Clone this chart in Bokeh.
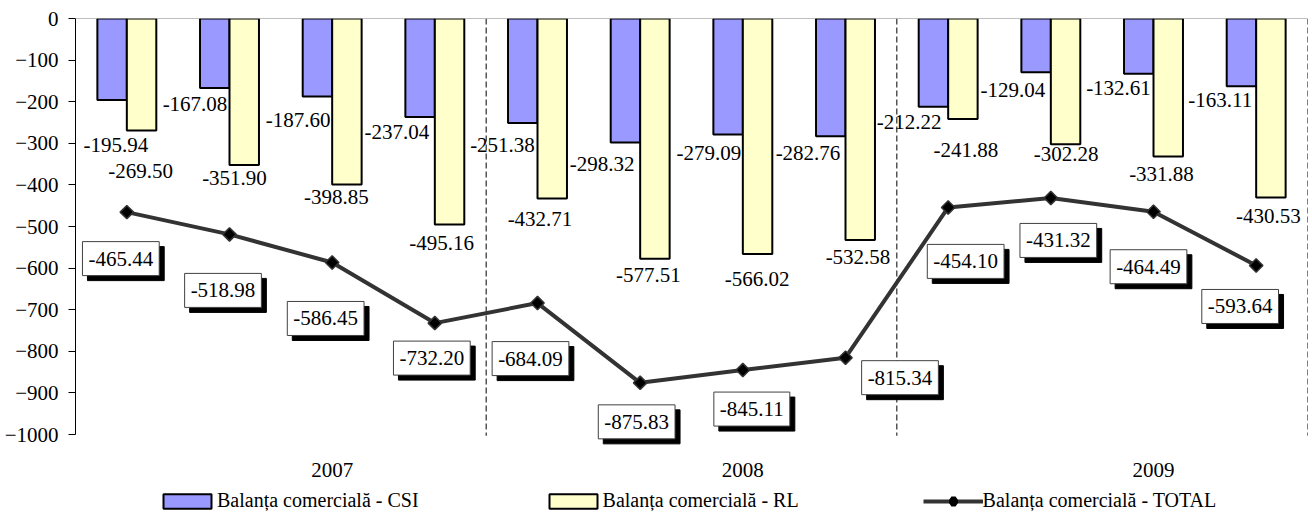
import numpy as np
from bokeh.plotting import figure
from bokeh.models import (Range1d, LinearAxis, FixedTicker, ColumnDataSource,
                          Legend, LegendItem, Span)
from bokeh.core.properties import value
from bokeh.embed import file_html
from bokeh.resources import INLINE

# ---------------- data ----------------
years = ["2007", "2008", "2009"]
quarters = ["I", "II", "III", "IV"]
csi = [-195.94, -167.08, -187.60, -237.04, -251.38, -298.32,
       -279.09, -282.76, -212.22, -129.04, -132.61, -163.11]
rl = [-269.50, -351.90, -398.85, -495.16, -432.71, -577.51,
      -566.02, -532.58, -241.88, -302.28, -331.88, -430.53]
total = [-465.44, -518.98, -586.45, -732.20, -684.09, -875.83,
         -845.11, -815.34, -454.10, -431.32, -464.49, -593.64]
y_ticks = list(range(-1000, 1, 100))
series_names = ["Balanța comercială - CSI", "Balanța comercială - RL",
                "Balanța comercială - TOTAL"]

# ---------------- label nudges (screen px, style only) ----------------
csi_dx = [-11, -34.5, -34, -38, -35, -38, -34, -37.5, -39, -38, -35, -36]
csi_dy = [44.5, 15.5, 23, 14.5, 21.5, 21, 18, 16.5, 15.5, 17.5, 14, 14]
rl_dx = [13.7, 5, 4.3, 6.7, 2.5, 8.3, 14.2, 12.5, 17.8, 15.2, 8, 12.3]
rl_dy = [40.5, 13, 13, 18.5, 20.5, 16, 25, 17, 30.5, 9.5, 17.5, 18.5]
tot_dx = [-6, -6.5, -6.5, -3, -7, -3.5, 9, 54.5, 17.5, 7.5, -5, -16]
tot_dy = [46.5, 56, 56, 35, 55.5, 39, 39, 20, 54, 42.5, 55, 41]

# ---------------- geometry / style ----------------
FONT = "Liberation Serif"
W, H = 1312, 515
LEFT, RIGHT, TOP = 75, 5, 18
FRAME_H = H - TOP
AXIS_PX = 416.0                 # pixels for 1000 units
PX = AXIS_PX / 1000.0
y_start = -FRAME_H / PX
BAR_W = 0.287
YEAR_LABEL_PX = 451             # px below the zero line
BOX_PAD = (6, 10)

n = len(csi)
xc = np.arange(n) + 0.5
x_csi = xc - BAR_W / 2
x_rl = xc + BAR_W / 2

p = figure(width=W, height=H, x_range=Range1d(0, n), y_range=Range1d(y_start, 0),
           output_backend="svg", toolbar_location=None,
           x_axis_location=None, y_axis_location=None,
           min_border_left=LEFT, min_border_right=RIGHT,
           min_border_top=TOP, min_border_bottom=0)
p.grid.visible = False
p.outline_line_color = None
p.background_fill_color = "white"
p.border_fill_color = "white"

yaxis = LinearAxis(ticker=FixedTicker(ticks=y_ticks), bounds=(-1000, 0),
                   major_label_text_font=FONT, major_label_text_font_size="21px",
                   major_label_text_color="black",
                   major_tick_out=7, major_tick_in=0,
                   minor_tick_out=0, minor_tick_in=0,
                   major_label_standoff=10,
                   axis_line_color="black", axis_line_width=1,
                   major_tick_line_color="black")
p.add_layout(yaxis, "left")

# top category axis line at zero
p.add_layout(Span(location=0, dimension="width", line_color="#808080", line_width=1))

# year separators
nq = len(quarters)
sep_x = list(range(nq, n + 1, nq))
p.segment(x0=sep_x, y0=[0] * len(sep_x), x1=sep_x, y1=[-1003] * len(sep_x),
          line_color="black", line_width=1, line_dash="6 3")

src = ColumnDataSource(dict(
    x_csi=x_csi, x_rl=x_rl, xc=xc, csi=csi, rl=rl, total=total,
    csi_t=[f"{v:.2f}" for v in csi], rl_t=[f"{v:.2f}" for v in rl],
    tot_t=[f"{v:.2f}" for v in total],
    csi_dx=csi_dx, csi_dy=csi_dy, rl_dx=rl_dx, rl_dy=rl_dy,
    tot_dx=tot_dx, tot_dy=tot_dy,
    sh_dx=[d + 5 for d in tot_dx], sh_dy=[d + 5 for d in tot_dy],
))

# bars
r_csi = p.vbar(x="x_csi", width=BAR_W, top=0, bottom="csi", source=src,
               fill_color="#9999FF", line_color="black", line_width=2)
r_rl = p.vbar(x="x_rl", width=BAR_W, top=0, bottom="rl", source=src,
              fill_color="#FFFFCC", line_color="black", line_width=2)

# total line
r_line = p.line(x="xc", y="total", source=src, line_color="#333333", line_width=4)
p.scatter(x="xc", y="total", source=src, marker="square", angle=np.pi / 4,
          size=9.5, fill_color="black", line_color="#333333", line_width=1.5)
# hidden twin of the markers, used only for the legend swatch
r_leg_mark = p.scatter(x="xc", y="total", source=src, marker="diamond",
                       fill_color="black", line_color="black", line_width=5,
                       visible=False)

# bar labels
p.text(x="xc", y="csi", text="csi_t", source=src, x_offset="csi_dx", y_offset="csi_dy",
       text_font=value(FONT), text_font_size="21px", text_color="black",
       text_align="center", text_baseline="middle")
p.text(x="xc", y="rl", text="rl_t", source=src, x_offset="rl_dx", y_offset="rl_dy",
       text_font=value(FONT), text_font_size="21px", text_color="black",
       text_align="center", text_baseline="middle")

# total labels: shadow + box
p.text(x="xc", y="total", text="tot_t", source=src, x_offset="sh_dx", y_offset="sh_dy",
       text_font=value(FONT), text_font_size="21px", text_color="black",
       text_align="center", text_baseline="middle",
       background_fill_color="black", border_line_color="black", padding=BOX_PAD)
p.text(x="xc", y="total", text="tot_t", source=src, x_offset="tot_dx", y_offset="tot_dy",
       text_font=value(FONT), text_font_size="21px", text_color="black",
       text_align="center", text_baseline="middle",
       background_fill_color="white", border_line_color="#404040",
       border_line_width=1, padding=BOX_PAD)

# year labels
year_x = [k * nq + nq / 2 + 0.5 for k in range(len(years))]
p.text(x=year_x, y=[-YEAR_LABEL_PX / PX] * len(years), text=years,
       text_font=value(FONT), text_font_size="21px", text_color="black",
       text_align="center", text_baseline="middle")

legend = Legend(items=[LegendItem(label=series_names[0], renderers=[r_csi]),
                       LegendItem(label=series_names[1], renderers=[r_rl]),
                       LegendItem(label=series_names[2], renderers=[r_line, r_leg_mark])],
                location=(82, 3), orientation="horizontal",
                glyph_width=60, glyph_height=18, label_standoff=0, spacing=124,
                padding=0, margin=0, label_text_font=FONT,
                label_text_font_size="20px", label_text_color="black",
                border_line_alpha=0, background_fill_alpha=0)
p.add_layout(legend)

open("out.html", "w").write(file_html(p, INLINE))
